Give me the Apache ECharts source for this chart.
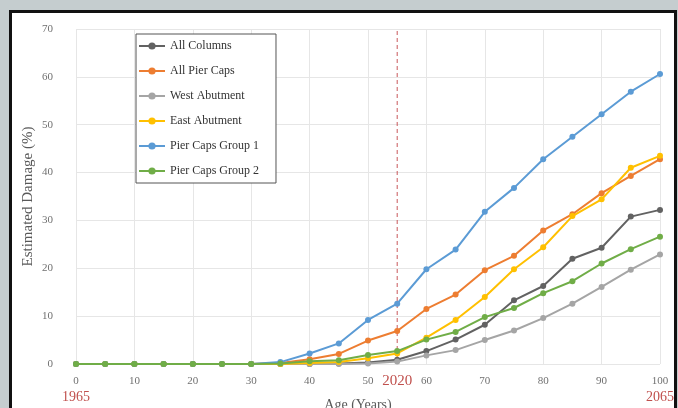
<!DOCTYPE html>
<html>
<head>
<meta charset="utf-8">
<script src="https://cdn.jsdelivr.net/npm/echarts@6/dist/echarts.min.js"></script>
<style>
html,body{margin:0;padding:0;background:#c5cdcf;}
#chart{width:678px;height:408px;}
</style>
</head>
<body>
<div id="chart"></div>
<script>
const ages = [0,5,10,15,20,25,30,35,40,45,50,55,60,65,70,75,80,85,90,95,100];
const seriesNames = ['All Columns','All Pier Caps','West Abutment','East Abutment','Pier Caps Group 1','Pier Caps Group 2'];
const allColumns    = [0,0,0,0,0,0,0,0,0,0.1,0.3,0.9,2.7,5.1,8.2,13.3,16.3,22.0,24.3,30.8,32.2];
const allPierCaps   = [0,0,0,0,0,0,0,0.2,1.0,2.1,4.9,6.9,11.5,14.5,19.6,22.6,27.9,31.3,35.7,39.3,42.8];
const westAbutment  = [0,0,0,0,0,0,0,0,0,0,0.1,0.5,1.8,2.9,5.0,7.0,9.6,12.6,16.1,19.7,22.9];
const eastAbutment  = [0,0,0,0,0,0,0,0,0.2,0.4,1.2,2.2,5.5,9.2,14.0,19.8,24.4,30.9,34.4,41.0,43.5];
const pierCapsG1    = [0,0,0,0,0,0,0,0.4,2.2,4.3,9.2,12.6,19.8,23.9,31.8,36.8,42.8,47.5,52.2,56.9,60.6];
const pierCapsG2    = [0,0,0,0,0,0,0,0.1,0.6,0.8,1.9,2.7,5.1,6.7,9.8,11.7,14.8,17.3,21.0,24.0,26.6];
const values = [allColumns, allPierCaps, westAbutment, eastAbutment, pierCapsG1, pierCapsG2];
const colors = ['#626262','#ed7d31','#a5a5a5','#ffc000','#5b9bd5','#70ad47'];
const yearLabels = {0:'1965', 100:'2065'};
const markYearAge = 55;
const markYearLabel = '2020';
const yMin = 0, yMax = 70;

const serif = '"Liberation Serif", "DejaVu Serif", serif';
const red = '#c0504d';
const chart = echarts.init(document.getElementById('chart'));

const series = seriesNames.map((name, i) => ({
  name: name,
  type: 'line',
  xAxisIndex: 0,
  data: ages.map((a, j) => [a, values[i][j]]),
  symbol: 'circle',
  symbolSize: 6,
  color: colors[i],
  lineStyle: {width: 2, color: colors[i]},
  itemStyle: {color: colors[i]},
  z: 2 + i
}));
series.unshift({
  name: 'year marker',
  type: 'line',
  xAxisIndex: 0,
  data: [[markYearAge, yMin], [markYearAge, yMax]],
  symbol: 'none',
  silent: true,
  color: '#c8585a',
  lineStyle: {color: '#c8585a', type: [4, 3], width: 1},
  z: 1
});

chart.setOption({
  backgroundColor: '#c5cdcf',
  animation: false,
  textStyle: {fontFamily: serif},
  graphic: {elements: [{
    type: 'rect', z: -1,
    shape: {x: 10.5, y: 11.5, width: 665, height: 420},
    style: {fill: '#ffffff', stroke: '#111111', lineWidth: 3}
  }]},
  grid: {left: 76, right: 18, top: 29, bottom: 44, containLabel: false, outerBoundsMode: 'none'},
  legend: {
    orient: 'vertical',
    left: 136, top: 34,
    padding: [5, 17, 5, 2],
    itemWidth: 26, itemHeight: 9, itemGap: 11,
    borderColor: '#555', borderWidth: 1,
    backgroundColor: '#fff',
    textStyle: {fontFamily: serif, fontSize: 12, color: '#333', lineHeight: 14},
    data: seriesNames
  },
  xAxis: [{
    type: 'value', min: 0, max: 100, interval: 5, position: 'bottom',
    axisLine: {show: false}, axisTick: {show: false}, splitLine: {show: false},
    name: 'Age (Years)', nameLocation: 'middle', nameGap: 34, nameMoveOverlap: false,
    nameTextStyle: {fontFamily: serif, fontSize: 14, color: '#595959', padding: [0, 20, 0, 0]},
    axisLabel: {
      margin: 10,
      formatter: function (v) {
        if (v === markYearAge) return '{b|' + markYearLabel + '}';
        if (v % 10 !== 0) return '';
        let s = '{n|' + v + '}';
        if (yearLabels[v]) s += '\n{r|' + yearLabels[v] + '}';
        return s;
      },
      rich: {
        n: {fontFamily: serif, fontSize: 11, color: '#707070', lineHeight: 14},
        b: {fontFamily: serif, fontSize: 15, color: red, lineHeight: 14},
        r: {fontFamily: serif, fontSize: 14, color: red, lineHeight: 19}
      }
    }
  }, {
    type: 'value', min: 0, max: 100, interval: 10, position: 'bottom',
    axisLine: {show: false}, axisTick: {show: false}, axisLabel: {show: false},
    splitLine: {show: true, lineStyle: {color: '#e6e6e6', width: 1}}
  }],
  yAxis: {
    type: 'value', min: yMin, max: yMax, interval: 10,
    axisLine: {show: false}, axisTick: {show: false},
    splitLine: {show: true, lineStyle: {color: '#e6e6e6', width: 1}},
    axisLabel: {margin: 23, fontFamily: serif, fontSize: 11, color: '#707070'},
    name: 'Estimated Damage (%)', nameLocation: 'middle', nameGap: 40, nameMoveOverlap: false,
    nameTextStyle: {fontFamily: serif, fontSize: 15, color: '#595959'}
  },
  series: series
});
</script>
</body>
</html>
